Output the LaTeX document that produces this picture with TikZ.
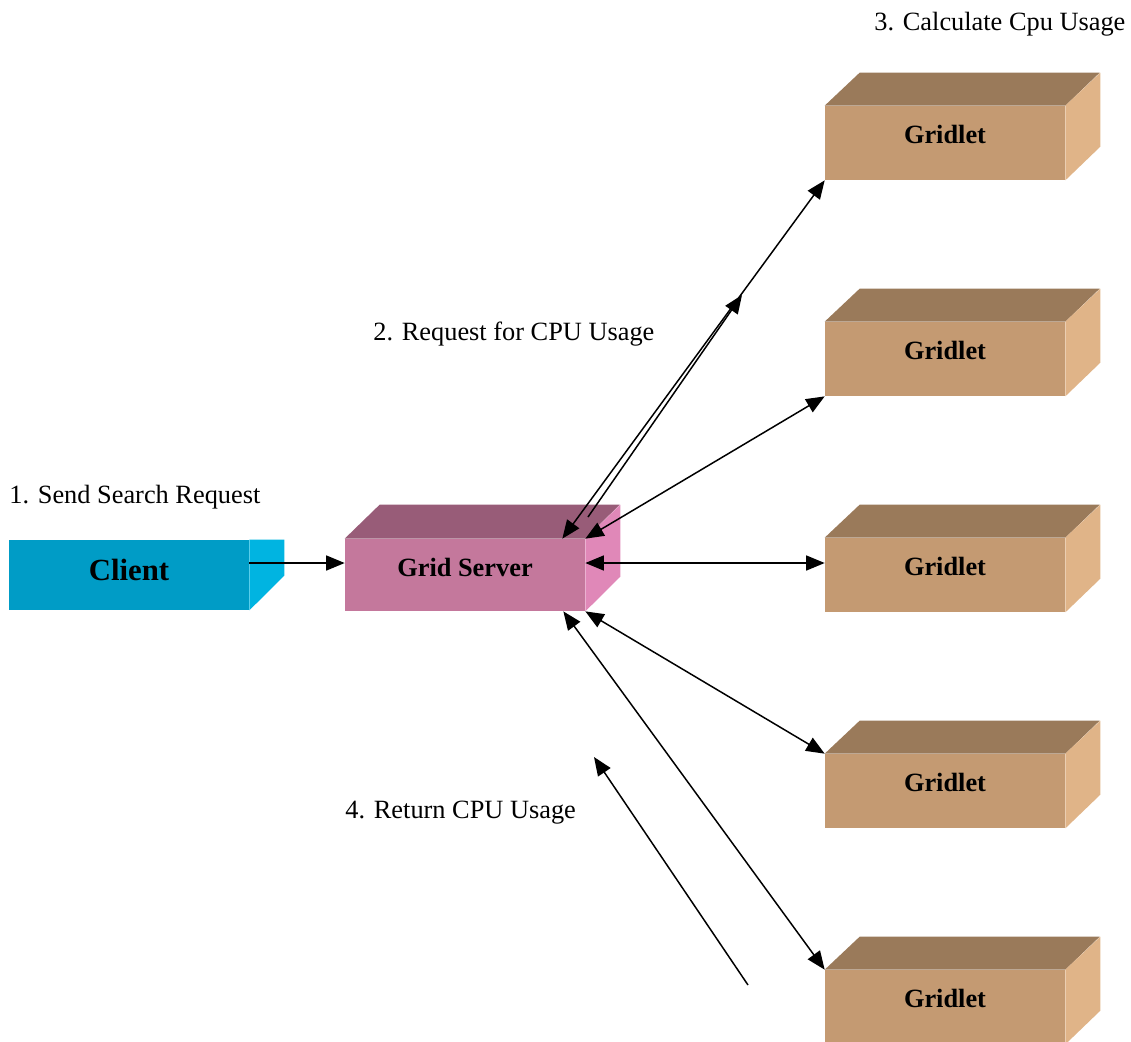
\documentclass[tikz,border=0pt]{standalone}
\usepackage{fontspec}
\setmainfont{Liberation Serif}
\usepackage{tikz}
\usetikzlibrary{calc,arrows.meta}
\usepackage{xcolor}
\definecolor{clientfront}{HTML}{009CC6}
\definecolor{clientside}{HTML}{00B4E1}
\definecolor{serverfront}{HTML}{C4789C}
\definecolor{servertop}{HTML}{985C78}
\definecolor{serverside}{HTML}{E088B8}
\definecolor{gridfront}{HTML}{C49A72}
\definecolor{gridtop}{HTML}{9A7A5A}
\definecolor{gridside}{HTML}{E0B488}

\begin{document}
\begin{tikzpicture}[x=0.02cm,y=-0.02cm,
  box/.style={minimum width=4.8cm,minimum height=1.48cm,inner sep=0,
    font=\fontsize{15}{18}\selectfont\bfseries,text depth=0.36cm},
  conn/.style={line width=0.85pt,{Triangle[length=10.5pt,width=8.5pt]}-{Triangle[length=10.5pt,width=8.5pt]}},
  oneway/.style={line width=0.85pt,-{Triangle[length=10.5pt,width=8.5pt]}},
  step label/.style={anchor=base west,inner sep=0,font=\fontsize{15}{18}\selectfont}]
  \useasboundingbox (0,0) rectangle (1131,1041);

  % client
  \node[box,fill=clientfront,minimum height=1.4cm,text depth=0.22cm,
    font=\fontsize{17.5}{20}\selectfont\bfseries] (client) at (129,575) {Client};
  \fill[clientside] (client.north east) -- ++(35,0) -- ++(0,36) -- (client.south east) -- cycle;

  % grid server
  \node[box,fill=serverfront,minimum height=1.44cm,text depth=0.32cm] (gs) at (465,575) {Grid Server};
  \fill[servertop] (gs.north west) -- ++(35,-34) -- ++(240,0) -- (gs.north east) -- cycle;
  \fill[serverside] (gs.north east) -- ++(35,-34) -- ++(0,72) -- (gs.south east) -- cycle;

  % gridlets
  \foreach \i in {1,...,5} {
    \node[box,fill=gridfront] (gl\i) at (945,{143+216*(\i-1)}) {Gridlet};
    \fill[gridtop] (gl\i.north west) -- ++(35,-33) -- ++(240,0) -- (gl\i.north east) -- cycle;
    \fill[gridside] (gl\i.north east) -- ++(35,-33) -- ++(0,74) -- (gl\i.south east) -- cycle;
  }

  % labels
  \node[step label] (l1) at (9,503) {1. Send Search Request};
  \node[step label] (l2) at (373,340) {2. Request for CPU Usage};
  \node[step label] (l3) at (874,31) {3. Calculate Cpu Usage};
  \node[step label] (l4) at (345,818) {4. Return CPU Usage};

  % connectors
  \coordinate (req1) at (588,517);
  \coordinate (req2) at (742,295);
  \coordinate (ret1) at (748,985);
  \coordinate (ret2) at (594,757);
  \draw[oneway] ([yshift=0.24cm]client.east) -- ([yshift=0.24cm]gs.west);
  \draw[conn] ([xshift=-0.46cm]gs.north east) -- (gl1.south west);
  \draw[oneway] (req1) -- (req2);
  \draw[conn] (gs.north east) -- (gl2.south west);
  \draw[conn] ([yshift=0.24cm]gs.east) -- ([yshift=0.24cm]gl3.west);
  \draw[conn] (gs.south east) -- (gl4.north west);
  \draw[conn] ([xshift=-0.44cm]gs.south east) -- (gl5.north west);
  \draw[oneway] (ret1) -- (ret2);
\end{tikzpicture}
\end{document}
